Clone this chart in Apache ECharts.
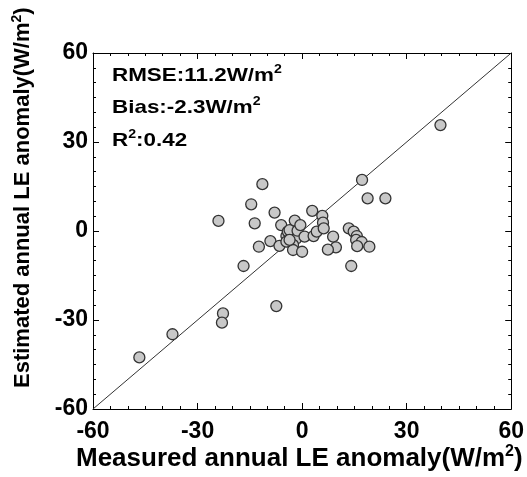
<!DOCTYPE html>
<html lang="en">
<head>
    <meta charset="UTF-8">
    <title>LE anomaly</title>
    <style>
        body { margin: 0; background: #fff; }
    </style>
</head>
<script type="text/javascript" src="https://fastly.jsdelivr.net/npm/echarts@6/dist/echarts.min.js"></script>
<body>
<div id="container" style="height: 477px;width: 527px"></div>

<script type="text/javascript">
    // measured (x) and estimated (y) annual LE anomaly, W/m2
    var measured = [-46.7, -37.2, -22.7, -23.0, -24.0, -14.6, -13.6, -11.4, -12.4, -16.8,
        -7.4, -7.9, -9.1, -6.5, -6.0, -4.5, -4.1, -3.6, -2.1, -1.7,
        -2.6, -2.6, -1.3, -0.5, 0.7, 0.0, 2.9, 3.3, 4.2, 5.8,
        6.0, 6.2, 8.9, 9.7, 7.4, 13.4, 14.8, 15.7, 15.5, 17.1,
        15.8, 19.3, 14.1, 17.2, 18.8, 23.9, 39.7, -4.5, -3.6];
    var estimated = [-42.6, -34.8, -27.8, -30.9, 3.4, 9.0, 2.6, 15.8, -5.3, -11.8,
        -25.3, 6.2, -3.4, -5.0, 2.0, -1.7, -0.2, 0.3, 3.5, -2.6,
        -4.7, -6.4, 0.1, 2.0, -1.9, -7.0, 6.8, -1.7, -0.2, 5.1,
        2.8, 0.9, -1.9, -5.5, -6.3, 0.9, -0.2, -1.7, -3.0, -3.7,
        -5.1, -5.3, -11.8, 17.2, 11.0, 11.0, 35.7, -3.6, -3.0];
    var ticks = [-60, -30, 0, 30, 60];

    var points = [];
    for (var i = 0; i < measured.length; i++) {
        points.push([measured[i], estimated[i]]);
    }

    var dom = document.getElementById('container');
    var myChart = echarts.init(dom, null, {renderer: 'canvas'});
    var fontFam = '"Liberation Sans", Arial, sans-serif';

    function axisBase(pos, showLabel) {
        return {
            type: 'value',
            position: pos,
            min: ticks[0],
            max: ticks[ticks.length - 1],
            interval: 30,
            axisLine: {show: true, onZero: false, lineStyle: {color: '#000', width: 1}},
            axisTick: {show: true, inside: true, length: 6, lineStyle: {color: '#000'}},
            minorTick: {show: true, splitNumber: 6, length: 3, lineStyle: {color: '#000'}},
            splitLine: {show: false},
            axisLabel: {
                show: showLabel,
                color: '#000',
                fontFamily: fontFam,
                fontWeight: 'bold',
                fontSize: 23
            }
        };
    }

    var xBottom = axisBase('bottom', true);
    xBottom.axisLabel.margin = 11;
    var xTop = axisBase('top', false);
    var yLeft = axisBase('left', true);
    yLeft.axisLabel.margin = 5;
    var yRight = axisBase('right', false);

    // superscript style for the "2" in units
    function richText(size, supSize, lift) {
        return {
            a: {fontFamily: fontFam, fontWeight: 'bold', fontSize: size, fill: '#000'},
            s: {fontFamily: fontFam, fontWeight: 'bold', fontSize: supSize, fill: '#000', padding: [0, 0, lift, 0]}
        };
    }

    function note(txt, top) {
        return {
            type: 'text', left: 112, top: top, scaleX: 1.18,
            style: {text: txt, rich: richText(19, 12, 11)}
        };
    }

    var option = {
        animation: false,
        grid: {left: 93, top: 53, width: 419, height: 356},
        xAxis: [xBottom, xTop],
        yAxis: [yLeft, yRight],
        graphic: [
            note('{a|RMSE:11.2W/m}{s|2}', 64),
            note('{a|Bias:-2.3W/m}{s|2}', 96),
            note('{a|R}{s|2}{a|:0.42}', 129),
            {
                type: 'text', x: 76, y: 444,
                style: {text: '{a|Measured annual LE anomaly(W/m}{s|2}{a|)}', rich: richText(26, 16, 14)}
            },
            {
                type: 'text', x: 10, y: 388, rotation: Math.PI / 2,
                style: {text: '{a|Estimated annual LE anomaly(W/m}{s|2}{a|)}', rich: richText(22, 14, 12)}
            }
        ],
        series: [
            {
                type: 'line',
                data: [[ticks[0], ticks[0]], [ticks[4], ticks[4]]],
                symbol: 'none',
                lineStyle: {color: '#333', width: 1},
                z: 1
            },
            {
                type: 'scatter',
                data: points,
                symbolSize: 11,
                itemStyle: {color: '#c8c8c8', borderColor: '#333', borderWidth: 1.3, opacity: 1},
                z: 2
            }
        ]
    };

    myChart.setOption(option);
</script>
</body>
</html>
